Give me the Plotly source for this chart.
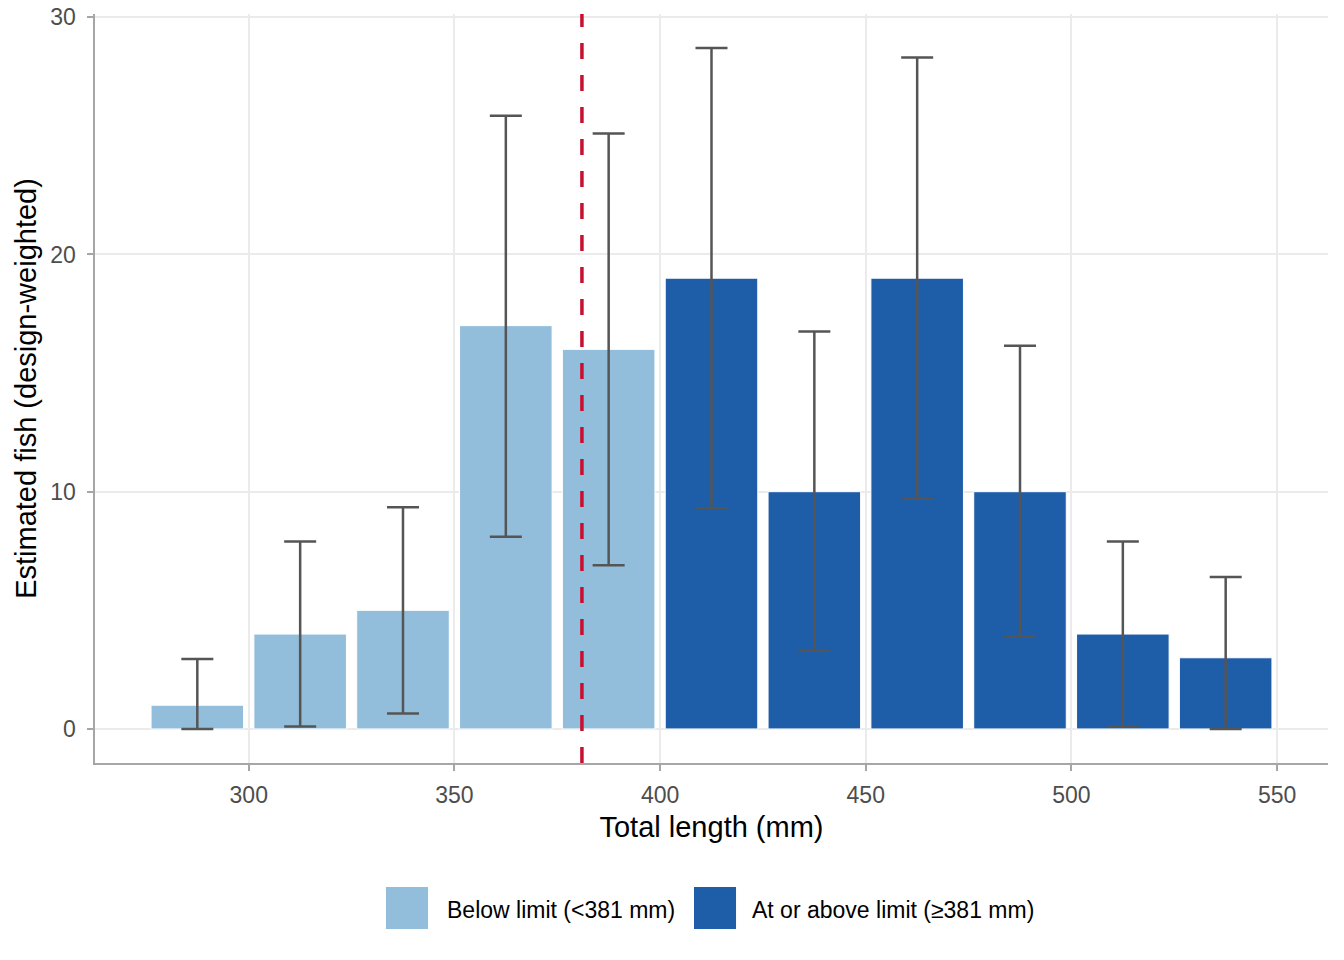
import plotly.graph_objects as go

# Data
length_mid = [287.5, 312.5, 337.5, 362.5, 387.5, 412.5, 437.5, 462.5, 487.5, 512.5, 537.5]
est_fish = [1, 4, 5, 17, 16, 19, 10, 19, 10, 4, 3]
ci_low = [0.0, 0.1, 0.65, 8.1, 6.9, 9.3, 3.3, 9.7, 3.9, 0.1, 0.0]
ci_high = [2.95, 7.9, 9.35, 25.85, 25.1, 28.7, 16.75, 28.3, 16.15, 7.9, 6.4]
groups = ["Below limit (<381 mm)"] * 5 + ["At or above limit (\u2265381 mm)"] * 6
group_names = ["Below limit (<381 mm)", "At or above limit (\u2265381 mm)"]
group_colors = ["#92BEDB", "#1E5DA7"]
size_limit = 381
x_ticks = [300, 350, 400, 450, 500, 550]
y_ticks = [0, 10, 20, 30]

FONT = "Liberation Sans, Arial, sans-serif"

fig = go.Figure()
for name, color in zip(group_names, group_colors):
    idx = [i for i, g in enumerate(groups) if g == name]
    xs = [length_mid[i] for i in idx]
    ys = [est_fish[i] for i in idx]
    plus = [ci_high[i] - est_fish[i] for i in idx]
    minus = [est_fish[i] - ci_low[i] for i in idx]
    fig.add_trace(go.Bar(
        x=xs, y=ys, width=22.5, name=name,
        marker=dict(color=color, line=dict(color="white", width=1)),
        error_y=dict(type="data", symmetric=False, array=plus, arrayminus=minus,
                     color="#555555", thickness=2.5, width=16),
        showlegend=False,
    ))

fig.add_shape(type="line", x0=size_limit, x1=size_limit, xref="x", y0=0, y1=1, yref="paper",
              line=dict(color="#C8102E", width=3.5, dash="16px,16px"), layer="above")

# custom legend
legend_boxes = [(0.2360, 0.2701, 0.2839), (0.4858, 0.5199, 0.5312)]
for (bx0, bx1, tx), name, color in zip(legend_boxes, group_names, group_colors):
    fig.add_shape(type="rect", xref="paper", yref="paper", x0=bx0, x1=bx1, y0=-0.2216, y1=-0.1656,
                  fillcolor=color, line=dict(width=0))
    fig.add_annotation(x=tx, y=-0.1956, xref="paper", yref="paper", text=name, showarrow=False,
                       xanchor="left", yanchor="middle", font=dict(family=FONT, size=23, color="black"))

fig.update_layout(
    width=1344, height=960,
    margin=dict(l=95, r=16, t=14, b=197),
    plot_bgcolor="white", paper_bgcolor="white",
    barmode="overlay",
    font=dict(family=FONT),
    xaxis=dict(
        range=[262.625, 562.375], tickvals=x_ticks, ticktext=[str(v) for v in x_ticks],
        showgrid=True, gridcolor="#EBEBEB", gridwidth=2.2, zeroline=False,
        showline=True, linecolor="#A6A6A6", linewidth=2.2,
        ticks="outside", ticklen=6, tickwidth=2.2, tickcolor="#A6A6A6",
        tickfont=dict(family=FONT, size=23, color="#4D4D4D"), ticklabelstandoff=4,
        title=dict(text="Total length (mm)", font=dict(family=FONT, size=29, color="black"), standoff=10),
        automargin=False,
    ),
    yaxis=dict(
        range=[-1.435, 30.135], tickvals=y_ticks, ticktext=[str(v) + " " for v in y_ticks],
        showgrid=True, gridcolor="#EBEBEB", gridwidth=2.2, zeroline=False,
        showline=True, linecolor="#A6A6A6", linewidth=2.2,
        ticks="outside", ticklen=6, tickwidth=2.2, tickcolor="#A6A6A6",
        tickfont=dict(family=FONT, size=23, color="#4D4D4D"),
        title=dict(text="Estimated fish (design-weighted)", font=dict(family=FONT, size=29, color="black"), standoff=5),
        automargin=False,
    ),
)

fig.write_html("out.html")
